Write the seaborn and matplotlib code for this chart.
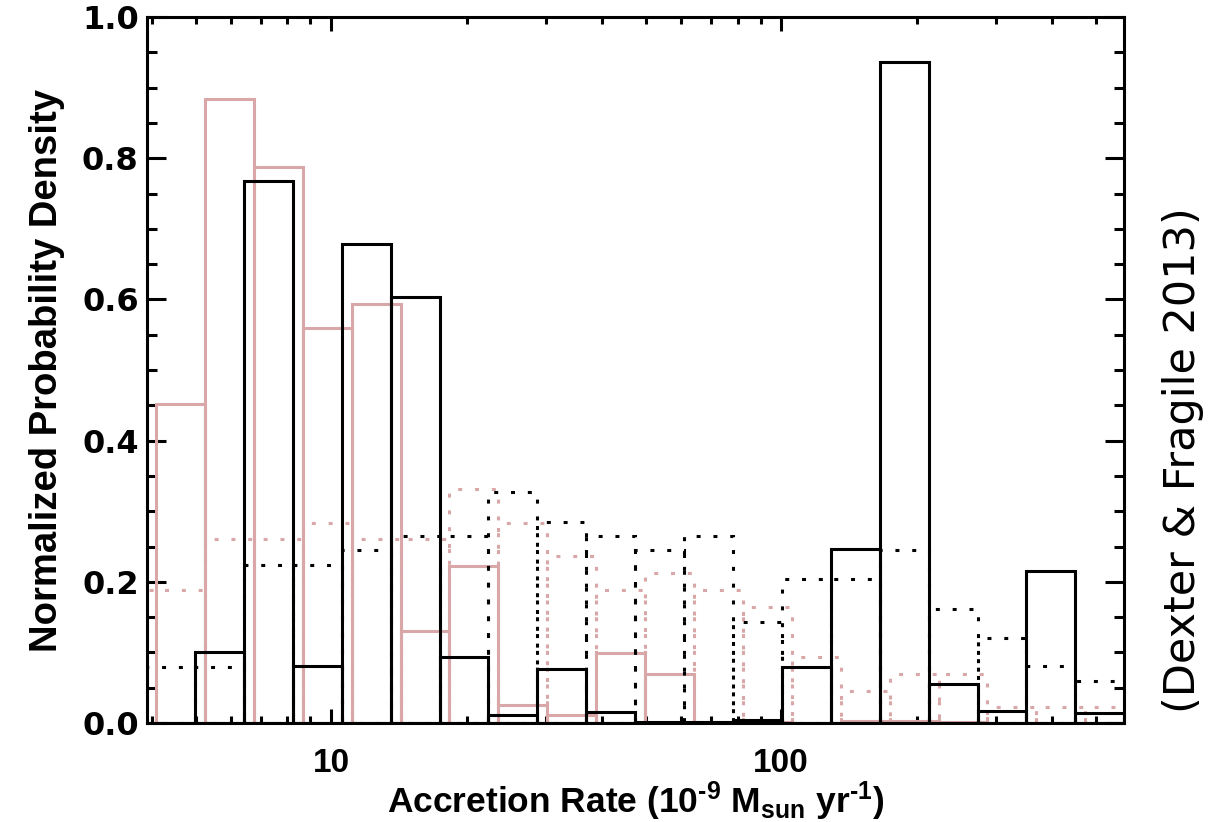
import numpy as np
import matplotlib
matplotlib.use("Agg")
import matplotlib.pyplot as plt
import seaborn as sns
from matplotlib.ticker import LogLocator, NullFormatter, FixedLocator, FixedFormatter, MultipleLocator

# ---- data (bin grids in log10 of accretion rate, 10^-9 Msun/yr) ----
bin_width = 0.10867
black_first_edge = 0.5891
pink_first_edge = 0.5024

black_solid = [0.0, 0.101, 0.768, 0.081, 0.678, 0.604, 0.093, 0.011, 0.076, 0.015,
               0.002, 0.001, 0.004, 0.080, 0.247, 0.936, 0.055, 0.017, 0.215, 0.014]
black_dotted = [0.080, 0.080, 0.224, 0.224, 0.245, 0.265, 0.265, 0.327, 0.285, 0.265,
                0.245, 0.265, 0.143, 0.204, 0.204, 0.245, 0.162, 0.121, 0.081, 0.060]
pink_solid = [0.0, 0.452, 0.884, 0.787, 0.560, 0.593, 0.131, 0.223, 0.025, 0.012,
              0.099, 0.070, 0.002, 0.001, 0.0, 0.003, 0.003, 0.001, 0.0, 0.0, 0.0]
pink_dotted = [0.188, 0.188, 0.260, 0.260, 0.284, 0.260, 0.260, 0.332, 0.284, 0.237,
               0.188, 0.213, 0.188, 0.165, 0.094, 0.046, 0.069, 0.069, 0.022, 0.022, 0.022]

x_major_ticks = [10, 100]
x_major_labels = ["10", "100"]
y_ticks = [0.0, 0.2, 0.4, 0.6, 0.8, 1.0]
y_tick_labels = ["0.0", "0.2", "0.4", "0.6", "0.8", "1.0"]

x_label = "Accretion Rate (10$^{\u20109}$ M$_{\\rm sun}$ yr$^{\u20101}$)"
y_label = "Normalized Probability Density"
credit = "(Dexter & Fragile 2013)"

# ---- style ----
sns.set_theme(style="ticks")
plt.rcParams["font.family"] = ["Liberation Sans", "DejaVu Sans"]
plt.rcParams["font.weight"] = "bold"
plt.rcParams["text.color"] = "black"
plt.rcParams["axes.labelcolor"] = "black"
plt.rcParams["xtick.color"] = "black"
plt.rcParams["ytick.color"] = "black"
plt.rcParams["mathtext.fontset"] = "custom"
plt.rcParams["mathtext.rm"] = "Liberation Sans:bold"
plt.rcParams["mathtext.it"] = "Liberation Sans:bold"
plt.rcParams["mathtext.bf"] = "Liberation Sans:bold"
plt.rcParams["mathtext.default"] = "rm"

PINK = "#d9a7a7"
BLACK = "#000000"
LW = 2.2
DOT = (0, (1.3, 4.2))

fig, ax = plt.subplots(figsize=(12.25, 8.22), dpi=100)
fig.subplots_adjust(left=0.120, right=0.9176, top=0.9793, bottom=0.1204)


def draw(values, first_edge, color, ls):
    n = len(values)
    edges = first_edge + bin_width * np.arange(n + 1)
    centers = 10 ** (edges[:-1] + bin_width / 2)
    sns.histplot(x=list(centers), weights=list(values), bins=[float(e) for e in edges],
                 log_scale=True, element="bars", fill=False, color=color,
                 linewidth=LW, linestyle=ls, ax=ax)


draw(pink_dotted, pink_first_edge, PINK, DOT)
draw(pink_solid, pink_first_edge, PINK, "-")
draw(black_dotted, black_first_edge, BLACK, DOT)
draw(black_solid, black_first_edge, BLACK, "-")

ax.set_xscale("log")
ax.set_xlim(3.9, 578)
ax.set_ylim(0, 1.0)

ax.xaxis.set_major_locator(FixedLocator(x_major_ticks))
ax.xaxis.set_major_formatter(FixedFormatter(x_major_labels))
ax.xaxis.set_minor_locator(LogLocator(base=10, subs=np.arange(2, 10), numticks=20))
ax.xaxis.set_minor_formatter(NullFormatter())

ax.yaxis.set_major_locator(FixedLocator(y_ticks))
ax.yaxis.set_major_formatter(FixedFormatter(y_tick_labels))
ax.yaxis.set_minor_locator(MultipleLocator(0.05))

ax.tick_params(axis="both", which="both", direction="in", top=True, right=True,
               width=2.2, color="black")
ax.tick_params(axis="x", which="major", length=10, pad=18)
ax.tick_params(axis="x", which="minor", length=5)
ax.tick_params(axis="y", which="major", length=14, pad=6)
ax.tick_params(axis="y", which="minor", length=7)

for lab in ax.get_xticklabels():
    lab.set_fontsize(24)
    lab.set_fontweight("bold")
for lab in ax.get_yticklabels():
    lab.set_fontsize(23)
    lab.set_fontweight("bold")
    lab.set_family("DejaVu Sans")

for sp in ax.spines.values():
    sp.set_linewidth(2.2)
    sp.set_color("black")

ax.set_xlabel(x_label, fontsize=25.5, fontweight="bold", labelpad=0)
ax.set_ylabel(y_label, fontsize=27.5, fontweight="bold", labelpad=12)

fig.text(1183 / 1225, 1 - 460 / 822, credit, rotation=90, ha="center", va="center",
         fontsize=31, family="DejaVu Sans", fontweight="normal")

fig.savefig("out.png", dpi=100, facecolor="white")
